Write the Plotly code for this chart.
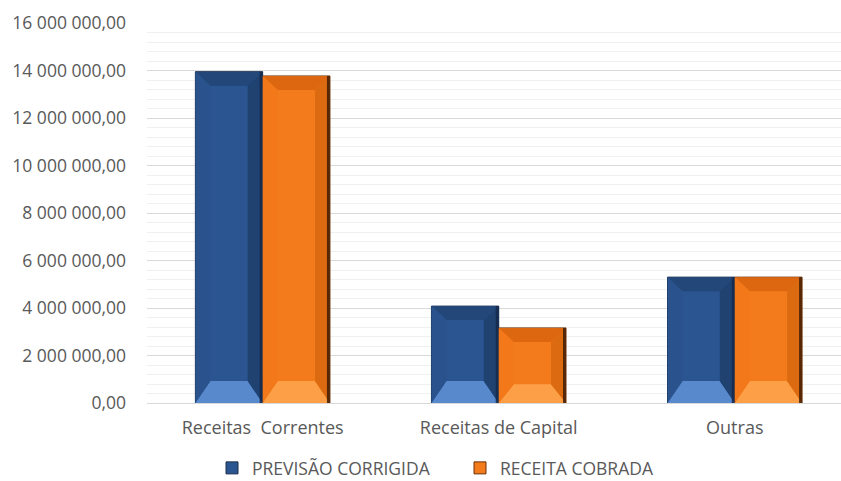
import plotly.graph_objects as go

# Revenue groups and values (R$)
categories = ["Receitas  Correntes", "Receitas de Capital", "Outras"]
previsao_corrigida = [13950000, 4080000, 5300000]
receita_cobrada = [13770000, 3160000, 5300000]
series_names = ["PREVISÃO CORRIGIDA", "RECEITA COBRADA"]

y_max = 16000000
y_major = 2000000
y_minor = 400000

# Plot geometry (pixels)
W, H = 841, 481
M_L, M_R, M_T, M_B = 147, 0, 23, 78
X_RANGE = [-0.49, 2.45]
BAR_W = 0.285

plot_w = W - M_L - M_R
plot_h = H - M_T - M_B
ux = (X_RANGE[1] - X_RANGE[0]) / plot_w      # data units per px (x)
uy = y_max / plot_h                           # data units per px (y)

# Bevel depths in px
BEV_X = 15
BEV_TOP = 14
BEV_BOT = 22

palettes = {
    "blue": dict(base="#2b5590", top="#224778", left="#2a538d", right="#1f4271",
                 bottom="#5789cc", edge="#16294a", line="#1b2f4d"),
    "orange": dict(base="#f47b1c", top="#dd6611", left="#f27819", right="#dc6a10",
                   bottom="#fd9f47", edge="#3e1c06", line="#6b3208"),
}

fig = go.Figure()
fig.add_trace(go.Bar(x=categories, y=previsao_corrigida, name=series_names[0],
                     width=BAR_W, offset=-BAR_W,
                     marker=dict(color=palettes["blue"]["base"],
                                 line=dict(color=palettes["blue"]["line"], width=1))))
fig.add_trace(go.Bar(x=categories, y=receita_cobrada, name=series_names[1],
                     width=BAR_W, offset=0,
                     marker=dict(color=palettes["orange"]["base"],
                                 line=dict(color=palettes["orange"]["line"], width=1))))


def poly(pts):
    return "M " + " L ".join(f"{x},{y}" for x, y in pts) + " Z"


shapes = []
for values, off, pal in [(previsao_corrigida, -BAR_W, palettes["blue"]),
                         (receita_cobrada, 0.0, palettes["orange"])]:
    for i, v in enumerate(values):
        x0 = i + off
        x1 = x0 + BAR_W
        hx = BEV_X * ux
        tv = min(BEV_TOP * uy, v * 0.2)
        bv = min(BEV_BOT * uy, v * 0.25)
        faces = [
            ([(x0, v), (x1, v), (x1 - hx, v - tv), (x0 + hx, v - tv)], pal["top"]),
            ([(x0, 0), (x1, 0), (x1 - hx, bv), (x0 + hx, bv)], pal["bottom"]),
            ([(x0, v), (x0 + hx, v - tv), (x0 + hx, bv), (x0, 0)], pal["left"]),
            ([(x1, v), (x1 - hx, v - tv), (x1 - hx, bv), (x1, 0)], pal["right"]),
        ]
        for pts, col in faces:
            shapes.append(dict(type="path", xref="x", yref="y", path=poly(pts),
                               fillcolor=col, line=dict(width=0), layer="above"))
        # dark rim on the right edge
        ex = 3 * ux
        shapes.append(dict(type="rect", xref="x", yref="y", x0=x1 - ex, x1=x1,
                           y0=0, y1=v, fillcolor=pal["edge"], line=dict(width=0),
                           layer="above", opacity=0.85))

font_family = "Open Sans, Noto Sans, DejaVu Sans, sans-serif"

fig.update_layout(
    width=W, height=H,
    margin=dict(l=M_L, r=M_R, t=M_T, b=M_B, autoexpand=False),
    paper_bgcolor="white", plot_bgcolor="white",
    barmode="group",
    separators=", ",
    showlegend=True,
    legend=dict(orientation="h", xref="container", x=212 / W, xanchor="left",
                yref="container", y=1 - 468 / H, yanchor="middle",
                font=dict(family=font_family, size=17.5, color="#595959"),
                itemwidth=30, entrywidth=203, entrywidthmode="pixels",
                traceorder="normal"),
    shapes=shapes,
    font=dict(family=font_family, color="#595959"),
)

fig.update_xaxes(range=X_RANGE, showgrid=False, showline=False, ticks="",
                 zeroline=False, tickfont=dict(size=18, color="#595959"),
                 ticklabelstandoff=12)
fig.update_yaxes(range=[0, y_max], dtick=y_major, tickformat=",.2f",
                 showgrid=True, gridcolor="#d9d9d9", gridwidth=1,
                 minor=dict(dtick=y_minor, showgrid=True, gridcolor="#f0f0f0",
                            gridwidth=1),
                 zeroline=True, zerolinecolor="#d9d9d9", zerolinewidth=1,
                 showline=False, ticks="", ticklabelstandoff=20,
                 tickfont=dict(size=17.5, color="#595959"))

fig.write_html("out.html")
